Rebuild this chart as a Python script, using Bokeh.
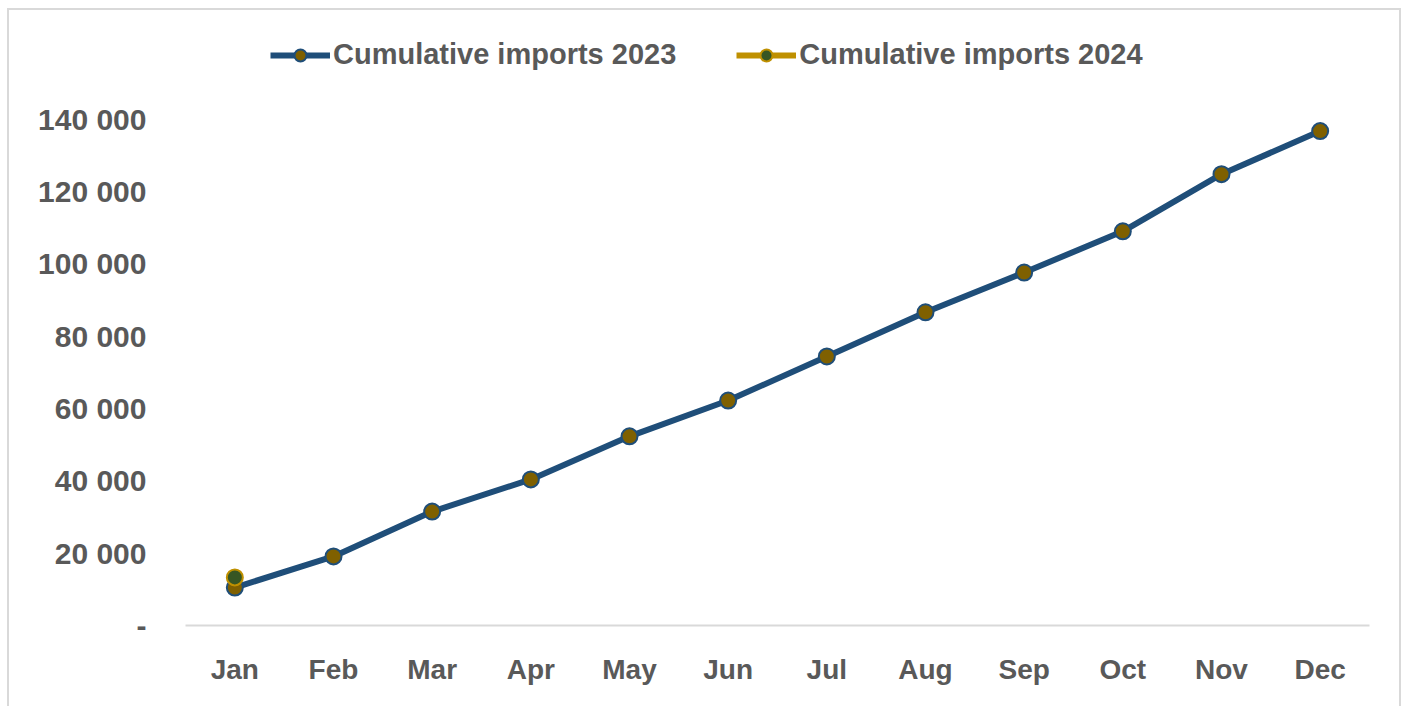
from bokeh.plotting import figure
from bokeh.models import (FactorRange, Range1d, FixedTicker, Legend, LegendItem,
                          CustomJSTickFormatter)
from bokeh.embed import file_html
from bokeh.resources import INLINE

months = ["Jan", "Feb", "Mar", "Apr", "May", "Jun", "Jul", "Aug", "Sep", "Oct", "Nov", "Dec"]
imports_2023 = [10500, 19100, 31500, 40400, 52300, 62200, 74400, 86600, 97600, 109000, 124800, 136700]
months_2024 = ["Jan"]
imports_2024 = [13300]
y_ticks = [0, 20000, 40000, 60000, 80000, 100000, 120000, 140000]

FONT = "Liberation Sans"
GREY = "#595959"

p = figure(width=1390, height=696, x_range=FactorRange(*months),
           y_range=Range1d(0, 168670), output_backend="svg", toolbar_location=None,
           min_border_left=176, min_border_right=30, min_border_top=5, min_border_bottom=81)
p.margin = (10, 0, 0, 9)
p.styles = {"outline": "2px solid #D9D9D9"}
p.outline_line_color = None
p.xgrid.grid_line_color = None
p.ygrid.grid_line_color = None
p.background_fill_color = "white"
p.border_fill_color = "white"

# axes
p.xaxis.axis_line_color = "#D9D9D9"
p.xaxis.axis_line_width = 2
p.xaxis.major_tick_line_color = None
p.xaxis.minor_tick_line_color = None
p.xaxis.major_label_text_font = FONT
p.xaxis.major_label_text_font_style = "bold"
p.xaxis.major_label_text_font_size = "28px"
p.xaxis.major_label_text_color = GREY
p.xaxis.major_label_standoff = 22

p.yaxis.axis_line_color = None
p.yaxis.major_tick_line_color = None
p.yaxis.minor_tick_line_color = None
p.yaxis.ticker = FixedTicker(ticks=y_ticks)
p.yaxis.formatter = CustomJSTickFormatter(code="""
    if (tick == 0) { return '-'; }
    const s = Math.round(tick).toString();
    return s.replace(/\\B(?=(\\d{3})+(?!\\d))/g, ' ');
""")
p.yaxis.major_label_text_font = FONT
p.yaxis.major_label_text_font_style = "bold"
p.yaxis.major_label_text_font_size = "30px"
p.yaxis.major_label_text_color = GREY
p.yaxis.major_label_standoff = 33

# series
l23 = p.line(months, imports_2023, line_color="#1F4E79", line_width=6)
s23 = p.scatter(months, imports_2023, size=16, fill_color="#7F6000",
                line_color="#1F4E79", line_width=2)
l24 = p.line(months_2024, imports_2024, line_color="#BF9000", line_width=6)
s24 = p.scatter(months_2024, imports_2024, size=16, fill_color="#375623",
                line_color="#BF9000", line_width=2)

legend = Legend(items=[LegendItem(label="Cumulative imports 2023", renderers=[l23, s23]),
                       LegendItem(label="Cumulative imports 2024", renderers=[l24, s24])],
                orientation="horizontal", location=(85, 554),
                glyph_width=60, glyph_height=30, label_standoff=3, spacing=60,
                padding=0, margin=0, border_line_color=None, background_fill_alpha=0,
                label_text_font=FONT, label_text_font_style="bold",
                label_text_font_size="29px", label_text_color=GREY)
p.add_layout(legend, "center")

open("out.html", "w").write(file_html(p, INLINE))
